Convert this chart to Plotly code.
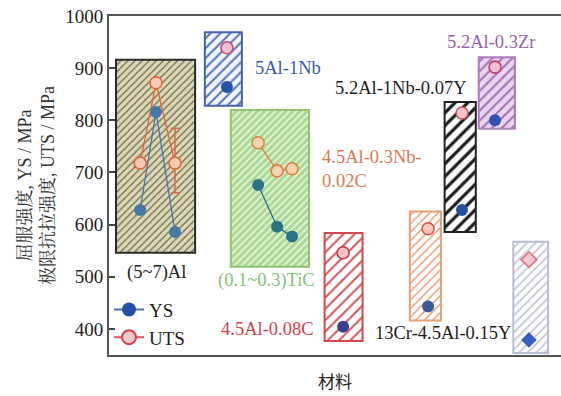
import plotly.graph_objects as go

# ---- data -------------------------------------------------------------
groups = ["(5~7)Al", "5Al-1Nb", "(0.1~0.3)TiC", "4.5Al-0.08C",
          "13Cr-4.5Al-0.15Y", "5.2Al-1Nb-0.07Y", "5.2Al-0.3Zr", "other"]

# range boxes: centre, width (x units), lower / upper strength (MPa)
box_x = [10.3, 25.3, 35.6, 51.9, 70.0, 77.7, 85.8, 93.3]
box_w = [17.5, 8.2, 17.3, 8.4, 6.9, 6.9, 8.0, 7.7]
box_lo = [546, 828, 519, 377, 416, 586, 784, 354]
box_hi = [916, 969, 820, 584, 625, 835, 921, 567]

# strength points per alloy
pt_x = [[6.9, 10.4, 14.6], [26.1], [33.0, 37.2, 40.5], [51.8],
        [70.6], [78.1], [85.4], [92.9]]
ys = [[628, 816, 586], [864], [676, 596, 577], [404],
      [443], [628], [800], [379]]
uts = [[718, 872, 718], [939], [757, 703, 707], [546],
       [592], [814], [902], [533]]
uts_err_plus = [0, 0, 67]
uts_err_minus = [0, 0, 57]

yticks = [400, 500, 600, 700, 800, 900, 1000]

# ---- styling ----------------------------------------------------------
SERIF = "Liberation Serif, Times New Roman, Noto Serif CJK SC, Noto Sans CJK SC, serif"

box_style = [
    # frame, bg, stripe, stripe spacing, solidity
    ("#2b2b2b", "#ddd8b0", "#6a685c", 5, 0.25),
    ("#4463a8", "#f2f4fb", "#5575ba", 7, 0.28),
    ("#8fc676", "#acd994", "#eef7e8", 5, 0.3),
    ("#d04a4e", "#ffffff", "#d65457", 8, 0.25),
    ("#e7a07a", "#ffffff", "#e8935f", 6, 0.22),
    ("#222222", "#ffffff", "#1c1c1c", 9, 0.36),
    ("#ad7dbd", "#e9d6ee", "#a574b6", 7, 0.3),
    ("#b7bdd2", "#ffffff", "#c2c6d4", 6, 0.28),
]
ys_col = ["#4a78a6", "#2453a8", "#2b7385", "#3c3d8f",
          "#3d5b99", "#2452a0", "#3152b2", "#3a5fc0"]
uts_col = ["#e2683c", "#c44b7c", "#d98242", "#d83345",
           "#e05242", "#d25262", "#c34272", "#e07080"]
uts_fill = ["#f5c9b4", "#eec0d2", "#f3d3b4", "#f7c1c6",
            "#f7c7c0", "#f3c4cb", "#efc0d4", "#f6c9d0"]

fig = go.Figure()

for i in range(len(groups)):
    frame, bg, fg, size, sol = box_style[i]
    fig.add_trace(go.Bar(
        x=[box_x[i]], y=[box_hi[i] - box_lo[i]], base=[box_lo[i]],
        width=[box_w[i]], showlegend=False, hoverinfo="skip",
        marker=dict(color=bg, line=dict(color=frame, width=2),
                    pattern=dict(shape="/", bgcolor=bg, fgcolor=fg,
                                 fgopacity=1, size=size, solidity=sol)),
    ))

for i in range(len(groups)):
    diamond = i == len(groups) - 1
    multi = len(pt_x[i]) > 1
    sym = "diamond" if diamond else "circle"
    err = None
    if i == 0:
        err = dict(type="data", array=uts_err_plus, arrayminus=uts_err_minus,
                   color=uts_col[i], thickness=1.5, width=4)
    fig.add_trace(go.Scatter(
        x=pt_x[i], y=uts[i], mode="lines+markers" if multi else "markers",
        line=dict(color=uts_col[i], width=1.3), error_y=err,
        marker=dict(symbol=sym, size=12, color=uts_fill[i],
                    line=dict(color=uts_col[i], width=1.6)),
        showlegend=False, hoverinfo="skip",
    ))
    fig.add_trace(go.Scatter(
        x=pt_x[i], y=ys[i], mode="lines+markers" if multi else "markers",
        line=dict(color=ys_col[i], width=1.3),
        marker=dict(symbol=sym, size=12, color=ys_col[i]),
        showlegend=False, hoverinfo="skip",
    ))

# legend entries
fig.add_trace(go.Scatter(
    x=[None], y=[None], mode="lines+markers", name="YS",
    line=dict(color="#5472aa", width=2),
    marker=dict(symbol="circle", size=14, color="#2550a8")))
fig.add_trace(go.Scatter(
    x=[None], y=[None], mode="lines+markers", name="UTS",
    line=dict(color="#d9585c", width=2),
    marker=dict(symbol="circle", size=14, color="#f6c6c6",
                line=dict(color="#d43c44", width=2))))

labels = [
    ("(5~7)Al", 10.4, 509, "center", "#222222"),
    ("5Al-1Nb", 31.9, 900, "left", "#3a5aa8"),
    ("5.2Al-1Nb-0.07Y", 49.6, 862, "left", "#1e1e1e"),
    ("4.5Al-0.3Nb-<br>0.02C", 46.7, 706, "left", "#d97a52"),
    ("5.2Al-0.3Zr", 74.3, 950, "left", "#9a62aa"),
    ("(0.1~0.3)TiC", 23.7, 492, "left", "#83c273"),
    ("4.5Al-0.08C", 24.3, 400, "left", "#d2404e"),
    ("13Cr-4.5Al-0.15Y", 89.4, 392, "right", "#1e1e1e"),
]
for text, x, y, anchor, col in labels:
    fig.add_annotation(x=x, y=y, xref="x", yref="y", text=text,
                       showarrow=False, xanchor=anchor, yanchor="middle",
                       align="left", font=dict(family=SERIF, size=18.5, color=col))

fig.update_layout(
    width=561, height=396,
    margin=dict(l=109, r=0, t=16, b=41),
    paper_bgcolor="white", plot_bgcolor="white",
    barmode="overlay",
    font=dict(family=SERIF, size=17, color="#222222"),
    legend=dict(x=0.0, y=0.19, xanchor="left", yanchor="top",
                bgcolor="rgba(0,0,0,0)", font=dict(family=SERIF, size=19),
                itemwidth=30, tracegroupgap=0),
    xaxis=dict(range=[0, 100], showticklabels=False, ticks="",
               showgrid=False, zeroline=False, showline=True,
               linecolor="#555555", linewidth=2, mirror=True,
               title=dict(text="材料", standoff=20,
                          font=dict(family="Noto Sans CJK SC", size=17))),
    yaxis=dict(range=[350, 1000], tickvals=yticks, ticks="inside",
               ticklen=6, tickwidth=1.5, tickcolor="#444444",
               showgrid=False, zeroline=False, showline=True,
               linecolor="#555555", linewidth=2,
               tickfont=dict(family=SERIF, size=19, color="#222222"),
               title=dict(text="屈服强度, YS / MPa<br>极限抗拉强度, UTS / MPa",
                          standoff=6,
                          font=dict(family=SERIF, size=18, color="#333333"))),
)

fig.write_html("out.html")
